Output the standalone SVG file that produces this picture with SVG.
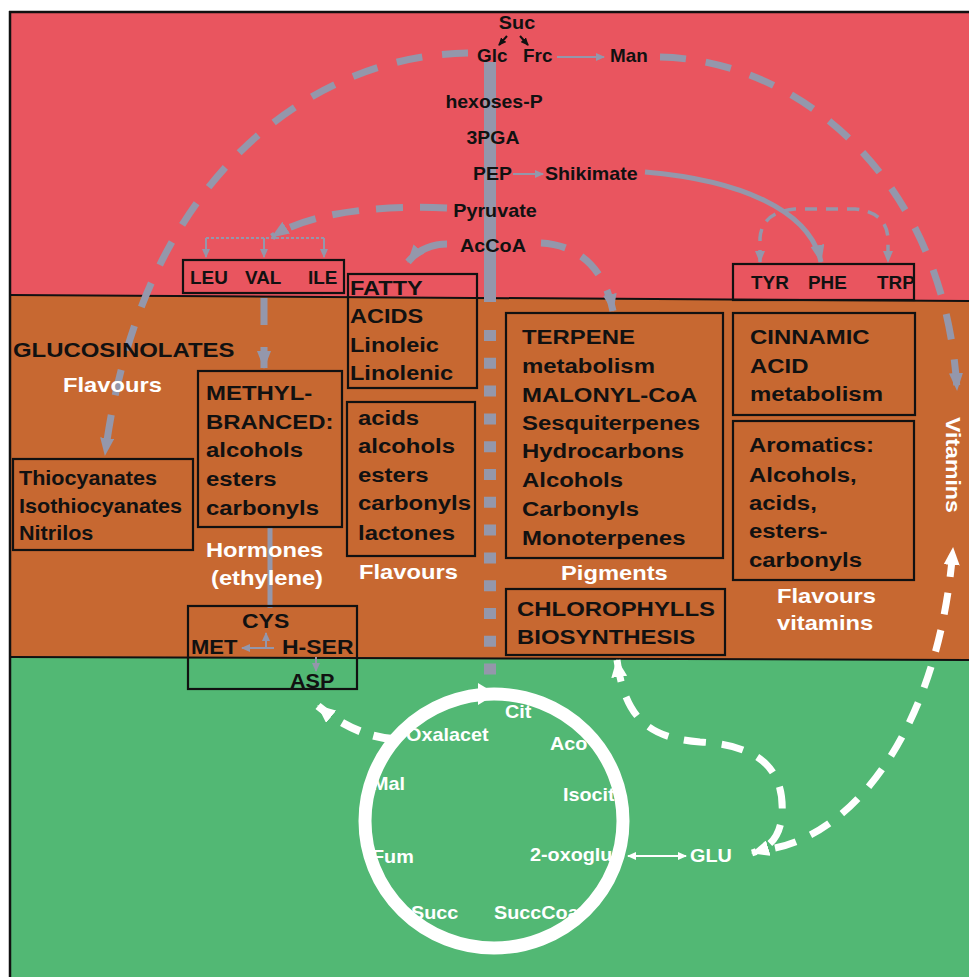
<svg xmlns="http://www.w3.org/2000/svg" width="969" height="977" viewBox="0 0 969 977">
<style>
.b{font-family:"Liberation Sans",Arial,Helvetica,sans-serif;font-weight:bold;fill:#111}
.w{font-family:"Liberation Sans",Arial,Helvetica,sans-serif;font-weight:bold;fill:#fff}
.f21{font-size:21px}.f20{font-size:20px}.f18{font-size:18px}
.box{fill:none;stroke:#111;stroke-width:2.2}
.gd{fill:none;stroke:#9497ab;stroke-width:7;stroke-dasharray:26 20}
.gs{fill:none;stroke:#9497ab;stroke-width:2}
.wd{fill:none;stroke:#fff;stroke-width:7;stroke-dasharray:22 16}
</style>
<defs>
<marker id="gA" markerUnits="userSpaceOnUse" markerWidth="18" markerHeight="14" refX="17" refY="7" orient="auto" viewBox="0 0 18 14"><path d="M0,0 L18,7 L0,14 Z" fill="#9497ab"/></marker>
<marker id="gM" markerUnits="userSpaceOnUse" markerWidth="12" markerHeight="10" refX="11" refY="5" orient="auto-start-reverse" viewBox="0 0 12 10"><path d="M0,0 L12,5 L0,10 Z" fill="#9497ab"/></marker>
<marker id="gS" markerUnits="userSpaceOnUse" markerWidth="9" markerHeight="8" refX="8" refY="4" orient="auto" viewBox="0 0 9 8"><path d="M0,0 L9,4 L0,8 Z" fill="#9497ab"/></marker>
<marker id="bS" markerUnits="userSpaceOnUse" markerWidth="8" markerHeight="7" refX="7" refY="3.5" orient="auto" viewBox="0 0 8 7"><path d="M0,0 L8,3.5 L0,7 Z" fill="#111"/></marker>
<marker id="wA" markerUnits="userSpaceOnUse" markerWidth="18" markerHeight="16" refX="17" refY="8" orient="auto-start-reverse" viewBox="0 0 18 16"><path d="M0,0 L18,8 L0,16 Z" fill="#fff"/></marker>
<marker id="wS" markerUnits="userSpaceOnUse" markerWidth="9" markerHeight="8" refX="8" refY="4" orient="auto-start-reverse" viewBox="0 0 9 8"><path d="M0,0 L9,4 L0,8 Z" fill="#fff"/></marker>
</defs>

<g id="background">
<rect x="0" y="0" width="969" height="977" fill="#fff"/>
<polygon points="10,12 969,12 969,301 10,295" fill="#e9555f"/>
<polygon points="10,295 969,301 969,660 10,657" fill="#c76831"/>
<polygon points="10,657 969,660 969,977 10,977" fill="#52b874"/>
<line x1="10" y1="295" x2="969" y2="301" stroke="#111" stroke-width="2"/>
<line x1="10" y1="657" x2="969" y2="660" stroke="#111" stroke-width="2"/>
<line x1="9" y1="12" x2="969" y2="12" stroke="#111" stroke-width="2.5"/>
<line x1="10" y1="11" x2="10" y2="977" stroke="#111" stroke-width="2.5"/>
</g>

<g id="connectors">
<rect x="484" y="62" width="12" height="240" fill="#9497ab"/>
<line x1="490" y1="330" x2="490" y2="675" stroke="#9497ab" stroke-width="12" stroke-dasharray="11 16.8"/>
<path class="gd" d="M 468 53 C 310 55, 140 180, 105 455" marker-end="url(#gA)"/>
<path class="gd" d="M 660 57 C 800 60, 945 180, 957 390" marker-end="url(#gA)"/>
<path class="gd" style="stroke-dasharray:27 17" d="M 447 208 C 380 205, 310 212, 272 237" marker-end="url(#gA)"/>
<path class="gd" style="stroke-dasharray:none" d="M 447 244 C 432 244, 418 250, 408 262" marker-end="url(#gA)"/>
<path class="gd" style="stroke-dasharray:25 18" d="M 541 243 C 580 245, 605 270, 613 311" marker-end="url(#gA)"/>
<line x1="206" y1="238" x2="325" y2="238" stroke="#9497ab" stroke-width="2" stroke-dasharray="3 2"/>
<line class="gs" x1="206" y1="238" x2="206" y2="257" marker-end="url(#gS)"/>
<line class="gs" x1="264" y1="238" x2="264" y2="257" marker-end="url(#gS)"/>
<line class="gs" x1="324" y1="238" x2="324" y2="257" marker-end="url(#gS)"/>
<path class="gd" style="stroke-dasharray:27 22" d="M 264 298 L 264 368" marker-end="url(#gA)"/>
<line x1="270" y1="528" x2="270" y2="608" stroke="#9497ab" stroke-width="5"/>
<line class="gs" x1="274" y1="648" x2="242" y2="648" marker-end="url(#gS)"/>
<line class="gs" x1="266" y1="648" x2="266" y2="633" marker-end="url(#gS)"/>
<line class="gs" x1="316" y1="657" x2="316" y2="671" marker-end="url(#gS)"/>
<path fill="none" stroke="#9497ab" stroke-width="5" d="M 645 172 C 740 180, 810 210, 821 262" marker-end="url(#gA)"/>
<path fill="none" stroke="#9497ab" stroke-width="3.5" stroke-dasharray="12 9" d="M 760 262 L 760 238 Q 762 212 795 209 L 855 209 Q 886 212 888 238 L 888 262" marker-start="url(#gM)" marker-end="url(#gM)"/>
<line class="gs" x1="557" y1="57" x2="604" y2="57" marker-end="url(#gS)"/>
<line class="gs" x1="513" y1="174" x2="543" y2="174" marker-end="url(#gS)"/>
<line x1="507" y1="36" x2="499" y2="45" stroke="#111" stroke-width="2" marker-end="url(#bS)"/>
<line x1="520" y1="36" x2="528" y2="45" stroke="#111" stroke-width="2" marker-end="url(#bS)"/>
<path class="wd" style="stroke-width:8;stroke-dasharray:20 14" d="M 393 739 C 370 737, 345 728, 318 706" marker-end="url(#wA)"/>
<path class="wd" d="M 617 660 C 625 720, 650 738, 700 742 C 760 745, 785 770, 782 815 C 780 835, 772 847, 752 853" marker-start="url(#wA)" marker-end="url(#wA)"/>
<path class="wd" d="M 775 848 C 860 830, 940 720, 953 548" marker-end="url(#wA)"/>
<line x1="628" y1="856" x2="686" y2="856" stroke="#fff" stroke-width="2" marker-start="url(#wS)" marker-end="url(#wS)"/>
</g>

<g id="suc"><text class="b f18" text-anchor="middle" transform="translate(517,29) scale(1.1,1)">Suc</text></g>
<g id="glc"><text class="b f18" transform="translate(477,62) scale(1.05,1)">Glc</text></g>
<g id="frc"><text class="b f18" transform="translate(523,62) scale(1.05,1)">Frc</text></g>
<g id="man"><text class="b f18" transform="translate(610,62) scale(1.05,1)">Man</text></g>
<g id="hexoses-p"><text class="b f18" text-anchor="middle" transform="translate(494,108) scale(1.08,1)">hexoses-P</text></g>
<g id="pga3"><text class="b f18" text-anchor="middle" transform="translate(493,144) scale(1.08,1)">3PGA</text></g>
<g id="pep"><text class="b f18" transform="translate(473,180) scale(1.08,1)">PEP</text></g>
<g id="shikimate"><text class="b f18" transform="translate(545,180) scale(1.09,1)">Shikimate</text></g>
<g id="pyruvate"><text class="b f18" text-anchor="middle" transform="translate(495,217) scale(1.1,1)">Pyruvate</text></g>
<g id="accoa"><text class="b f18" text-anchor="middle" transform="translate(493,252) scale(1.1,1)">AcCoA</text></g>

<g id="leu-val-ile">
<rect class="box" x="183" y="260" width="161" height="33"/>
<text class="b f18" transform="translate(190,284) scale(1.05,1)">LEU</text>
<text class="b f18" transform="translate(245,284) scale(1.05,1)">VAL</text>
<text class="b f18" transform="translate(308,284) scale(1.05,1)">ILE</text>
</g>

<g id="tyr-phe-trp">
<text class="b f18" transform="translate(751,289) scale(1.05,1)">TYR</text>
<text class="b f18" transform="translate(808,289) scale(1.05,1)">PHE</text>
<text class="b f18" transform="translate(877,289) scale(1.05,1)">TRP</text>
<rect class="box" x="733" y="264" width="181" height="36"/>
</g>

<g id="fatty-acids">
<rect class="box" x="348" y="274" width="129" height="114"/>
<g transform="translate(350,0) scale(1.12,1)" class="b f21">
<text y="295">FATTY</text><text y="323">ACIDS</text><text y="352">Linoleic</text><text y="380">Linolenic</text>
</g>
</g>

<g id="glucosinolates">
<text class="b f21" transform="translate(13,357) scale(1.14,1)">GLUCOSINOLATES</text>
<text class="w f21" transform="translate(63,392) scale(1.13,1)">Flavours</text>
</g>

<g id="thiocyanates">
<rect class="box" x="13" y="459" width="180" height="91"/>
<g transform="translate(19,0) scale(1.08,1)" class="b f20">
<text y="485">Thiocyanates</text><text y="513">Isothiocyanates</text><text y="540">Nitrilos</text>
</g>
</g>

<g id="methyl-branced">
<rect class="box" x="198" y="371" width="144" height="156"/>
<g transform="translate(206,0) scale(1.14,1)" class="b f21">
<text y="400">METHYL-</text><text y="429">BRANCED:</text><text y="457">alcohols</text><text y="486">esters</text><text y="515">carbonyls</text>
</g>
</g>

<g id="hormones">
<text class="w f21" transform="translate(206,557) scale(1.13,1)">Hormones</text>
<text class="w f21" transform="translate(211,585) scale(1.13,1)">(ethylene)</text>
</g>

<g id="acids-box">
<rect class="box" x="347" y="402" width="128" height="154"/>
<g transform="translate(358,0) scale(1.14,1)" class="b f21">
<text y="425">acids</text><text y="453">alcohols</text><text y="482">esters</text><text y="510">carbonyls</text><text y="540">lactones</text>
</g>
<text class="w f21" transform="translate(359,579) scale(1.13,1)">Flavours</text>
</g>

<g id="cys-box">
<rect class="box" x="188" y="606" width="169" height="83"/>
<text class="b f20" transform="translate(242,628) scale(1.15,1)">CYS</text>
<text class="b f20" transform="translate(191,654) scale(1.1,1)">MET</text>
<text class="b f20" transform="translate(282,654) scale(1.15,1)">H-SER</text>
<text class="b f20" transform="translate(290,688) scale(1.08,1)">ASP</text>
</g>

<g id="terpene">
<rect class="box" x="506" y="313" width="217" height="245"/>
<g transform="translate(522,0) scale(1.14,1)" class="b f21">
<text y="344">TERPENE</text><text y="373">metabolism</text><text y="402">MALONYL-CoA</text><text y="430">Sesquiterpenes</text><text y="458">Hydrocarbons</text><text y="487">Alcohols</text><text y="516">Carbonyls</text><text y="545">Monoterpenes</text>
</g>
<text class="w f21" transform="translate(561,580) scale(1.13,1)">Pigments</text>
</g>

<g id="chlorophylls">
<rect class="box" x="506" y="589" width="219" height="66"/>
<g transform="translate(517,0) scale(1.14,1)" class="b f21">
<text y="616">CHLOROPHYLLS</text><text y="644">BIOSYNTHESIS</text>
</g>
</g>

<g id="cinnamic">
<rect class="box" x="733" y="313" width="182" height="102"/>
<g transform="translate(750,0) scale(1.14,1)" class="b f21">
<text y="344">CINNAMIC</text><text y="373">ACID</text><text y="401">metabolism</text>
</g>
</g>

<g id="aromatics">
<rect class="box" x="733" y="421" width="181" height="159"/>
<g transform="translate(749,0) scale(1.14,1)" class="b f21">
<text y="452">Aromatics:</text><text y="482">Alcohols,</text><text y="510">acids,</text><text y="538">esters-</text><text y="567">carbonyls</text>
</g>
<text class="w f21" transform="translate(777,603) scale(1.13,1)">Flavours</text>
<text class="w f21" transform="translate(777,630) scale(1.13,1)">vitamins</text>
</g>

<g id="vitamins"><text class="w f21" transform="translate(946,417) rotate(90) scale(1.1,1)">Vitamins</text></g>

<g id="tca-cycle">
<g class="w f18">
<text transform="translate(505,718) scale(1.1,1)">Cit</text>
<text transform="translate(406,741) scale(1.1,1)">Oxalacet</text>
<text transform="translate(550,750) scale(1.1,1)">Aco</text>
<text transform="translate(372,790) scale(1.1,1)">Mal</text>
<text transform="translate(563,801) scale(1.1,1)">Isocit</text>
<text transform="translate(372,863) scale(1.1,1)">Fum</text>
<text transform="translate(530,861) scale(1.1,1)">2-oxoglu</text>
<text transform="translate(411,919) scale(1.1,1)">Succ</text>
<text transform="translate(494,919) scale(1.1,1)">SuccCoa</text>
</g>
<ellipse cx="494" cy="821" rx="129" ry="127" fill="none" stroke="#fff" stroke-width="13"/>
<polygon points="478,683 496,694 478,705" fill="#fff"/>
</g>

<g id="glu"><text class="w f18" transform="translate(690,862) scale(1.1,1)">GLU</text></g>
</svg>
